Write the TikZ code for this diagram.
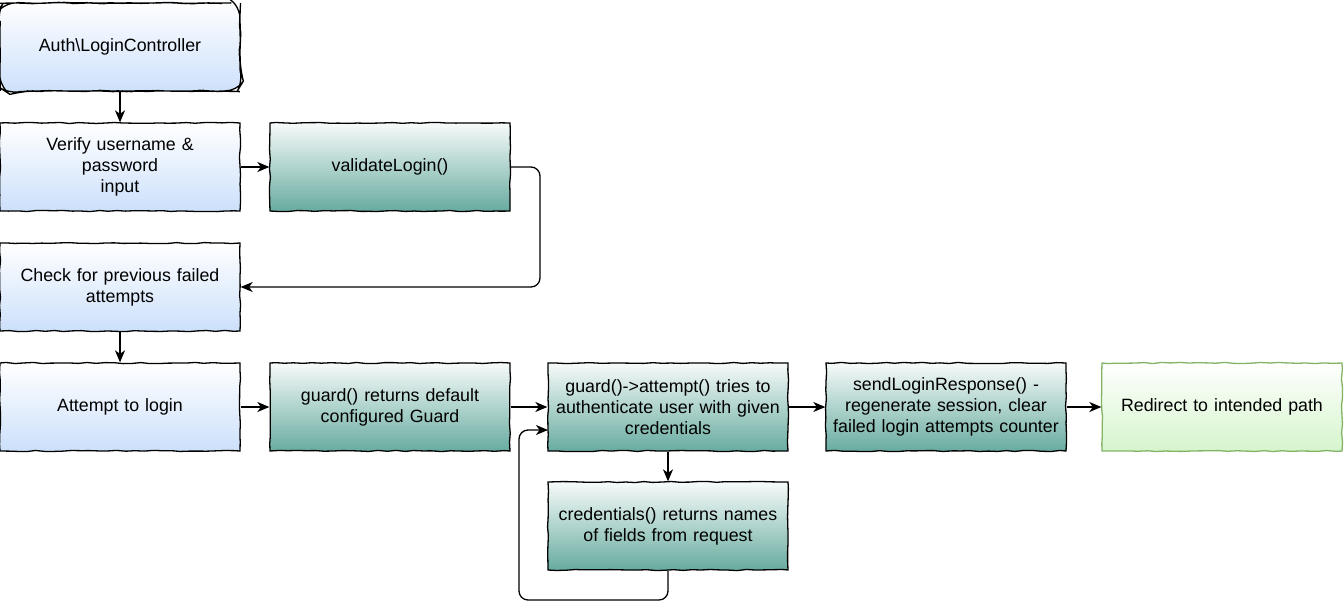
\documentclass[tikz,border=0pt]{standalone}
\usepackage{fontspec}
\setmainfont{Liberation Sans}
\usetikzlibrary{arrows.meta,decorations.pathmorphing}
\definecolor{blueBot}{HTML}{CCE0FB}
\definecolor{tealBot}{HTML}{67AB9F}
\definecolor{greenBot}{HTML}{D5F5CC}
\definecolor{greenLine}{HTML}{82B366}
\begin{document}
\begin{tikzpicture}[x=1pt,y=1pt,
  sketch/.style={decorate, decoration={random steps, segment length=9pt, amplitude=0.6pt}},
  box/.style={draw=black, line width=1.3pt, minimum width=240pt, minimum height=88pt,
    text width=232pt, align=center, inner sep=0pt,
    font=\fontsize{17.8}{21}\selectfont, sketch},
  bluebox/.style={box, top color=white, bottom color=blueBot},
  tealbox/.style={box, top color=white!95!tealBot, bottom color=tealBot},
  greenbox/.style={box, draw=greenLine, top color=white, bottom color=greenBot},
  conn/.style={line width=1.3pt, -{Stealth[length=12pt,width=10pt,inset=3.5pt]}},
  loopconn/.style={conn, rounded corners=9pt}]
\useasboundingbox (0,0) rectangle (1344,-614);

\node[bluebox, rounded corners=12pt] (A) at (120,-47) {Auth\textbackslash LoginController};
\node[bluebox] (B) at (120,-167) {Verify username \&\\password\\input};
\node[tealbox] (V) at (390,-167) {validateLogin()};
\node[bluebox] (C) at (120,-287) {Check for previous failed\\attempts};
\node[bluebox] (D) at (120,-407) {Attempt to login};
\node[tealbox] (G) at (390,-407) {guard() returns default\\configured Guard};
\node[tealbox] (T) at (668,-407) {guard()->attempt() tries to\\authenticate user with given\\credentials};
\node[tealbox] (S) at (946,-407) {sendLoginResponse() -\\regenerate session, clear\\failed login attempts counter};
\node[greenbox] (R) at (1222,-407) {Redirect to intended path};
\node[tealbox] (K) at (668,-526) {credentials() returns names\\of fields from request};

\coordinate (vr) at (540,-167);
\coordinate (kl) at (519,-600);
\coordinate (tin) at (548,-430);

\draw[conn] (A) -- (B);
\draw[conn] (B) -- (V);
\draw[loopconn] (V.east) -- (vr) |- (C.east);
\draw[conn] (C) -- (D);
\draw[conn] (D) -- (G);
\draw[conn] (G) -- (T);
\draw[conn] (T) -- (S);
\draw[conn] (S) -- (R);
\draw[conn] (T) -- (K);
\draw[loopconn] (K.south) |- (kl) |- (tin);
\end{tikzpicture}
\end{document}
